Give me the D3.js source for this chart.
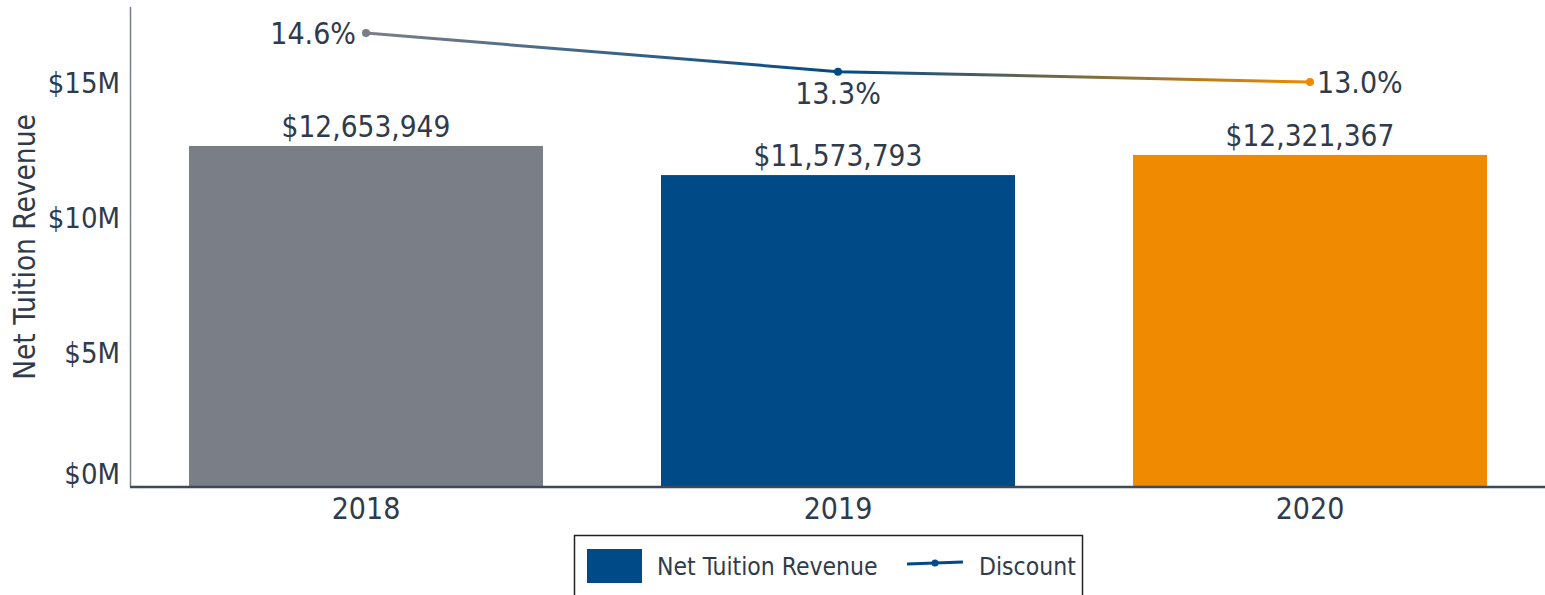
<!DOCTYPE html>
<html>
<head>
<meta charset="utf-8">
<script src="https://cdn.jsdelivr.net/npm/d3@7"></script>
<style>
  body { margin: 0; background: #fff; }
  text { font-family: "DejaVu Sans Condensed", "DejaVu Sans", sans-serif; font-stretch: condensed; fill: #2f3b4c; }
</style>
</head>
<body>
<script>
var width = 1545,
    height = 595;

// data
var years = ['2018', '2019', '2020'];
var revenue = [12653949, 11573793, 12321367];
var discount = [14.6, 13.34, 13.0];
var yTicks = [0, 5e6, 10e6, 15e6];

// styles
var barColors = ['#7a7f87', '#004a87', '#f08a00'];

var svg = d3.select('body')
  .append('svg')
  .attr('width', width)
  .attr('height', height);

var x = d3.scaleBand()
  .domain(years)
  .range([130, 1546])
  .paddingInner(0.25)
  .paddingOuter(0.125);

var y = d3.scaleLinear()
  .domain([0, 17.81e6])
  .range([487, 7]);

// secondary (hidden) axis for the discount line
var y2 = d3.scaleLinear()
  .domain([-0.22, 15.45])
  .range([487, 7]);

// bars
svg.append('g').selectAll('rect')
  .data(revenue)
  .enter()
  .append('rect')
  .attr('x', (d, i) => x(years[i]))
  .attr('y', d => y(d))
  .attr('width', x.bandwidth())
  .attr('height', d => y(0) - y(d))
  .attr('fill', (d, i) => barColors[i]);

svg.append('g').selectAll('text')
  .data(revenue)
  .enter()
  .append('text')
  .attr('x', (d, i) => x(years[i]) + x.bandwidth() / 2)
  .attr('y', d => y(d) - 9)
  .attr('text-anchor', 'middle')
  .style('font-size', '29.5px')
  .text(d => '$' + d3.format(',')(d));

// y axis
svg.append('line')
  .attr('x1', 130.5).attr('x2', 130.5)
  .attr('y1', 7).attr('y2', 487)
  .attr('stroke', '#7a7f87')
  .attr('stroke-width', 1.5);

svg.append('g').selectAll('text')
  .data(yTicks)
  .enter()
  .append('text')
  .attr('x', 120)
  .attr('y', d => y(d) + (d === 0 ? -13 : 0))
  .attr('dy', '0.36em')
  .attr('text-anchor', 'end')
  .style('font-size', '29px')
  .text(d => '$' + d3.format('d')(d / 1e6) + 'M');

svg.append('text')
  .attr('transform', 'translate(35,' + (y(0) + y.range()[1]) / 2 + ') rotate(-90)')
  .attr('text-anchor', 'middle')
  .style('font-size', '29.5px')
  .text('Net Tuition Revenue');

// x axis
svg.append('line')
  .attr('x1', 130).attr('x2', width)
  .attr('y1', 487).attr('y2', 487)
  .attr('stroke', '#3d4a5a')
  .attr('stroke-width', 2.5);

svg.append('g').selectAll('text')
  .data(years)
  .enter()
  .append('text')
  .attr('x', d => x(d) + x.bandwidth() / 2)
  .attr('y', 519)
  .attr('text-anchor', 'middle')
  .style('font-size', '30px')
  .text(d => d);

// discount line with a gradient across the bar colours
var cx = (d, i) => x(years[i]) + x.bandwidth() / 2;
var x0 = cx(null, 0), x1 = cx(null, years.length - 1);

var grad = svg.append('defs').append('linearGradient')
  .attr('id', 'lineGrad')
  .attr('gradientUnits', 'userSpaceOnUse')
  .attr('x1', x0).attr('x2', x1)
  .attr('y1', 0).attr('y2', 0);

grad.selectAll('stop')
  .data(barColors)
  .enter()
  .append('stop')
  .attr('offset', (d, i) => (cx(null, i) - x0) / (x1 - x0))
  .attr('stop-color', d => d);

var line = d3.line()
  .x((d, i) => cx(d, i))
  .y(d => y2(d));

svg.append('path')
  .datum(discount)
  .attr('d', line)
  .attr('fill', 'none')
  .attr('stroke', 'url(#lineGrad)')
  .attr('stroke-width', 3);

svg.append('g').selectAll('circle')
  .data(discount)
  .enter()
  .append('circle')
  .attr('cx', cx)
  .attr('cy', d => y2(d))
  .attr('r', 4)
  .attr('fill', (d, i) => barColors[i]);

// labels: left, below, right
svg.append('g').selectAll('text')
  .data(discount)
  .enter()
  .append('text')
  .attr('x', (d, i) => cx(d, i) + (i === 0 ? -10 : i === 2 ? 7 : 0))
  .attr('y', (d, i) => y2(d) + (i === 1 ? 22 : 0))
  .attr('dy', '0.36em')
  .attr('text-anchor', (d, i) => i === 0 ? 'end' : i === 2 ? 'start' : 'middle')
  .style('font-size', '30px')
  .text(d => d.toFixed(1) + '%');

// legend
var legend = svg.append('g');
legend.append('rect')
  .attr('x', 574.5).attr('y', 535.5)
  .attr('width', 508).attr('height', 70)
  .attr('fill', '#fff')
  .attr('stroke', '#222')
  .attr('stroke-width', 1.5);

legend.append('rect')
  .attr('x', 587).attr('y', 549)
  .attr('width', 55).attr('height', 34)
  .attr('fill', barColors[1]);

legend.append('text')
  .attr('x', 657).attr('y', 566)
  .attr('dy', '0.36em')
  .style('font-size', '24.5px')
  .text('Net Tuition Revenue');

legend.append('line')
  .attr('x1', 907).attr('x2', 963)
  .attr('y1', 564).attr('y2', 562)
  .attr('stroke', barColors[1])
  .attr('stroke-width', 3);

legend.append('circle')
  .attr('cx', 935).attr('cy', 563)
  .attr('r', 3.5)
  .attr('fill', barColors[1]);

legend.append('text')
  .attr('x', 979).attr('y', 566)
  .attr('dy', '0.36em')
  .style('font-size', '24.5px')
  .text('Discount');
</script>
</body>
</html>
